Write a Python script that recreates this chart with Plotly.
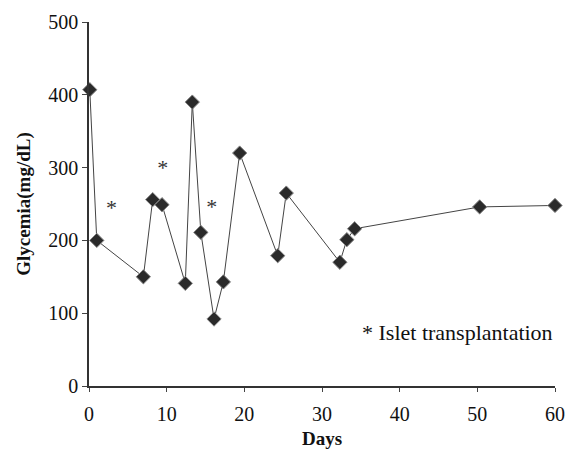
import plotly.graph_objects as go

days = [0.1, 1, 7, 8.2, 9.4, 12.4, 13.3, 14.4, 16.1, 17.3, 19.4, 24.3, 25.4, 32.3, 33.2, 34.2, 50.3, 60]
glycemia = [407, 200, 150, 256, 249, 141, 390, 211, 92, 143, 320, 179, 265, 170, 201, 216, 246, 248]

star_days = [2.9, 9.5, 15.8]
star_vals = [243, 297, 244]

x_ticks = [0, 10, 20, 30, 40, 50, 60]
y_ticks = [0, 100, 200, 300, 400, 500]

font = "Liberation Serif"

fig = go.Figure()
fig.add_trace(go.Scatter(
    x=days, y=glycemia, mode="lines+markers",
    line=dict(color="#444444", width=1),
    marker=dict(symbol="diamond", size=11, color="#2a2a2a", line=dict(color="#888888", width=1)),
    cliponaxis=False, showlegend=False,
))
fig.add_trace(go.Scatter(
    x=star_days, y=star_vals, mode="text", text=["*"] * len(star_days),
    textfont=dict(family=font, size=22, color="#333333"),
    showlegend=False, cliponaxis=False,
))
fig.add_annotation(x=47.5, y=73, xref="x", yref="y", text="* Islet transplantation",
                   showarrow=False, font=dict(family=font, size=22, color="#111111"))

fig.update_layout(
    width=567, height=452,
    margin=dict(l=89, r=12, t=22, b=66),
    paper_bgcolor="white", plot_bgcolor="white",
    font=dict(family=font, size=20, color="#111111"),
)
fig.update_xaxes(
    range=[0, 60], tickvals=x_ticks, ticks="outside", ticklen=4, tickwidth=1,
    ticklabelstandoff=5,
    showline=True, linecolor="#333333", linewidth=1.5, showgrid=False, zeroline=False,
    automargin=False,
    title=dict(text="<b>Days</b>", font=dict(family=font, size=19), standoff=8),
)
fig.update_yaxes(
    range=[0, 500], tickvals=y_ticks, ticks="outside", ticklen=5, tickwidth=1,
    showline=True, linecolor="#333333", linewidth=1.5, showgrid=False, zeroline=False,
    automargin=False,
    title=dict(text="<b>Glycemia(mg/dL)</b>", font=dict(family=font, size=19), standoff=13),
)

fig.write_html("out.html", config={"displayModeBar": False},
               post_script="document.body.style.margin='0';")
